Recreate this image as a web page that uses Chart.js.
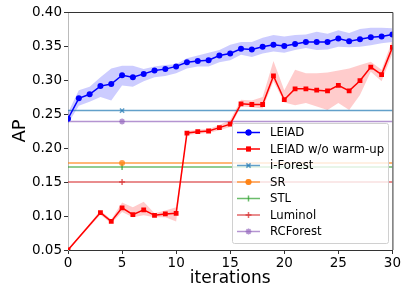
<!DOCTYPE html>
<html>
<head>
<meta charset="utf-8">
<script src="https://cdn.jsdelivr.net/npm/chart.js@4/dist/chart.umd.min.js"></script>
<style>
html, body { margin: 0; padding: 0; background: #fff; }
#wrap { width: 402px; height: 291px; }
</style>
</head>
<body>
<div id="wrap"><canvas id="chart"></canvas></div>
<script>
// values
const iterations = [0, 1, 2, 3, 4, 5, 6, 7, 8, 9, 10, 11, 12, 13, 14, 15, 16, 17, 18, 19, 20, 21, 22, 23, 24, 25, 26, 27, 28, 29, 30];
const leiad = [0.243, 0.273, 0.279, 0.291, 0.294, 0.307, 0.304, 0.309, 0.314, 0.316, 0.320, 0.326, 0.328, 0.329, 0.336, 0.339, 0.346, 0.345, 0.349, 0.352, 0.350, 0.353, 0.356, 0.356, 0.356, 0.361, 0.357, 0.360, 0.363, 0.364, 0.367];
const leiadLow = [0.236, 0.262, 0.268, 0.275, 0.270, 0.292, 0.290, 0.298, 0.304, 0.306, 0.310, 0.317, 0.320, 0.320, 0.326, 0.329, 0.337, 0.334, 0.339, 0.342, 0.340, 0.344, 0.347, 0.344, 0.345, 0.349, 0.348, 0.349, 0.351, 0.354, 0.356];
const leiadHigh = [0.252, 0.285, 0.290, 0.304, 0.317, 0.321, 0.321, 0.316, 0.320, 0.322, 0.323, 0.332, 0.336, 0.340, 0.344, 0.352, 0.356, 0.356, 0.362, 0.366, 0.364, 0.366, 0.367, 0.371, 0.368, 0.373, 0.369, 0.375, 0.377, 0.377, 0.376];

const warmIterations = [0, 3, 4, 5, 6, 7, 8, 9, 10, 11, 12, 13, 14, 15, 16, 17, 18, 19, 20, 21, 22, 23, 24, 25, 26, 27, 28, 29, 30];
const warmup = [0.050, 0.105, 0.092, 0.112, 0.102, 0.109, 0.101, 0.103, 0.104, 0.222, 0.224, 0.225, 0.230, 0.235, 0.265, 0.264, 0.264, 0.306, 0.271, 0.287, 0.287, 0.285, 0.284, 0.292, 0.284, 0.299, 0.319, 0.308, 0.348];
const warmupLow = [0.049, 0.102, 0.089, 0.106, 0.098, 0.101, 0.098, 0.098, 0.092, 0.219, 0.221, 0.222, 0.226, 0.231, 0.261, 0.260, 0.258, 0.298, 0.267, 0.263, 0.266, 0.261, 0.256, 0.266, 0.256, 0.278, 0.312, 0.298, 0.339];
const warmupHigh = [0.051, 0.108, 0.095, 0.120, 0.113, 0.121, 0.104, 0.108, 0.113, 0.225, 0.227, 0.228, 0.234, 0.241, 0.271, 0.270, 0.275, 0.328, 0.285, 0.315, 0.310, 0.310, 0.311, 0.314, 0.317, 0.322, 0.327, 0.315, 0.359];

const baselineNames = ['i-Forest', 'SR', 'STL', 'Luminol', 'RCForest'];
const baselineValues = [0.255, 0.178, 0.172, 0.150, 0.239];
const baselineMarkAt = 5;

const xTicks = [0, 5, 10, 15, 20, 25, 30];
const yTicks = [0.05, 0.10, 0.15, 0.20, 0.25, 0.30, 0.35, 0.40];

const FONT = 'DejaVu Sans';

const pts = (xs, ys) => xs.map((x, i) => ({x: x, y: ys[i]}));

const baselineStyles = [
    {color: 'rgba(31,119,180,0.7)', pointStyle: 'crossRot', rotation: 0},
    {color: 'rgba(255,127,14,0.75)', pointStyle: 'circle', rotation: 0},
    {color: 'rgba(44,160,44,0.7)', pointStyle: 'line', rotation: 90},
    {color: 'rgba(214,39,40,0.7)', pointStyle: 'cross', rotation: 0},
    {color: 'rgba(148,103,189,0.7)', pointStyle: 'star', rotation: 0},
];

const datasets = [
    {
        label: 'LEIAD',
        data: pts(iterations, leiad),
        borderColor: '#0000ff',
        backgroundColor: '#0000ff',
        borderWidth: 1.5,
        pointStyle: 'circle',
        pointRadius: 3,
        pointBorderWidth: 0,
        fill: false,
    },
    {
        label: 'LEIAD w/o warm-up',
        data: pts(warmIterations, warmup),
        borderColor: '#ff0000',
        backgroundColor: '#ff0000',
        borderWidth: 1.5,
        pointStyle: 'rect',
        pointRadius: 3.4,
        pointBorderWidth: 0,
        fill: false,
    },
];

baselineNames.forEach((name, i) => {
    const st = baselineStyles[i];
    datasets.push({
        label: name,
        data: pts([xTicks[0], baselineMarkAt, xTicks[xTicks.length - 1]], [baselineValues[i], baselineValues[i], baselineValues[i]]),
        borderColor: st.color,
        backgroundColor: st.color,
        borderWidth: 1.5,
        pointStyle: st.pointStyle,
        pointRotation: st.rotation,
        pointRadius: [0, 3, 0],
        pointBorderWidth: st.pointStyle === 'circle' ? 0 : 1.5,
        pointBorderColor: st.color,
        fill: false,
    });
});

// shaded bands (low line invisible, high line fills down to it)
const bandPairs = [
    [leiadLow, leiadHigh, iterations, 'rgba(0,0,255,0.2)'],
    [warmupLow, warmupHigh, warmIterations, 'rgba(255,0,0,0.2)'],
];
bandPairs.forEach(([lo, hi, xs, col]) => {
    const loIndex = datasets.length;
    datasets.push({
        label: '_lo', data: pts(xs, lo), borderWidth: 0, pointRadius: 0, fill: false, borderColor: 'transparent',
    });
    datasets.push({
        label: '_hi', data: pts(xs, hi), borderWidth: 0, pointRadius: 0, borderColor: 'transparent',
        backgroundColor: col, fill: loIndex,
    });
});

const frame = {
    id: 'frame',
    afterDatasetsDraw(chart) {
        const {ctx, chartArea: a} = chart;
        ctx.save();
        ctx.strokeStyle = '#333';
        ctx.lineWidth = 1;
        ctx.beginPath();
        ctx.moveTo(a.left, a.top + 0.5);
        ctx.lineTo(a.right + 0.5, a.top + 0.5);
        ctx.lineTo(a.right + 0.5, a.bottom);
        ctx.stroke();
        ctx.restore();
    }
};

const boxLegend = {
    id: 'boxLegend',
    afterDraw(chart) {
        const {ctx} = chart;
        const items = datasets.slice(0, 2 + baselineNames.length);
        const x0 = 232, y0 = 123, w = 156, h = 120, rowH = 16.5;
        ctx.save();
        ctx.fillStyle = 'rgba(255,255,255,0.8)';
        ctx.strokeStyle = '#d0d0d0';
        ctx.lineWidth = 1;
        ctx.beginPath();
        ctx.roundRect(x0 + 0.5, y0 + 0.5, w, h, 2);
        ctx.fill();
        ctx.stroke();
        ctx.font = '11.7px "' + FONT + '"';
        ctx.textBaseline = 'middle';
        ctx.fillStyle = '#000';
        items.forEach((ds, i) => {
            const y = y0 + 9.5 + i * rowH;
            ctx.strokeStyle = ds.borderColor;
            ctx.lineWidth = 1.5;
            ctx.beginPath();
            ctx.moveTo(237, y);
            ctx.lineTo(260, y);
            ctx.stroke();
            ctx.fillStyle = ds.backgroundColor;
            ctx.strokeStyle = ds.borderColor;
            Chart.helpers.drawPoint(ctx, {
                pointStyle: ds.pointStyle,
                radius: i < 2 ? (i === 0 ? 3 : 3.4) : 3,
                rotation: ds.pointRotation || 0,
                borderWidth: i < 2 || ds.pointStyle === 'circle' ? 0 : 1.5,
            }, 248.5, y);
            if (i < 2 || ds.pointStyle === 'circle') ctx.fill();
            ctx.fillStyle = '#000';
            ctx.fillText(ds.label, 270, y + 0.5);
        });
        ctx.restore();
    }
};

new Chart(document.getElementById('chart'), {
    type: 'line',
    data: {datasets: datasets},
    plugins: [frame, boxLegend],
    options: {
        responsive: true,
        maintainAspectRatio: false,
        animation: false,
        layout: {padding: {left: 0, top: 12, right: 6, bottom: 0}},
        elements: {line: {tension: 0}},
        scales: {
            x: {
                type: 'linear',
                min: 0,
                max: 30,
                afterFit: (s) => { s.height = 41; },
                afterBuildTicks: (s) => { s.ticks = xTicks.map(v => ({value: v})); },
                border: {color: '#333', width: 1},
                grid: {drawOnChartArea: false, drawTicks: true, tickLength: 4, color: '#333'},
                ticks: {color: '#000', font: {family: FONT, size: 13.5}, padding: 1, maxRotation: 0},
                title: {display: true, text: 'iterations', color: '#000', font: {family: FONT, size: 17}, padding: {top: 0, bottom: 2}},
            },
            y: {
                type: 'linear',
                min: 0.05,
                max: 0.40,
                afterFit: (s) => { s.width = 68; },
                afterBuildTicks: (s) => { s.ticks = yTicks.map(v => ({value: v})); },
                border: {color: '#bbb', width: 1},
                grid: {drawOnChartArea: false, drawTicks: true, tickLength: 4, color: '#333'},
                ticks: {color: '#000', font: {family: FONT, size: 13.5}, padding: 2, callback: (v) => v.toFixed(2)},
                title: {display: true, text: 'AP', color: '#000', font: {family: FONT, size: 18}, padding: {top: 10, bottom: 0}},
            },
        },
        plugins: {
            legend: {display: false},
            tooltip: {enabled: false},
        },
    },
});
</script>
</body>
</html>
